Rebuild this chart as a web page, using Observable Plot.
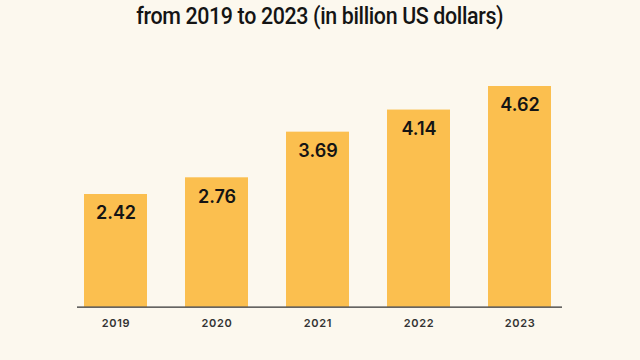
<!DOCTYPE html>
<html>
<head>
<meta charset="utf-8">
<script src="https://cdn.jsdelivr.net/npm/d3@7"></script>
<script src="https://cdn.jsdelivr.net/npm/@observablehq/plot@0.6"></script>
<style>
  html, body { margin: 0; padding: 0; background: #fcf8ee; }
  #wrap { width: 640px; height: 360px; position: relative; overflow: hidden; background: #fcf8ee; }
  #title {
    position: absolute; left: 0; top: 0; width: 640px; height: 40px;
    text-align: center; line-height: 32px;
    font-family: "Roboto", "Liberation Sans", sans-serif;
    font-weight: 500; font-size: 24px; color: #141414; letter-spacing: -0.4px;
  }
  #title span { display: inline-block; transform-origin: 50% 50%; white-space: nowrap; }
  #chart { position: absolute; left: 0; top: 40px; }
</style>
</head>
<body>
<div id="wrap">
  <div id="title"><span id="tspan">from 2019 to 2023 (in billion US dollars)</span></div>
  <div id="chart"></div>
</div>
<script>
const years = ["2019", "2020", "2021", "2022", "2023"];
const values = [2.42, 2.76, 3.69, 4.14, 4.62];
const labels = ["2.42", "2.76", "3.69", "4.14", "4.62"];

const data = years.map((y, i) => ({year: y, value: values[i], label: labels[i]}));

const plot = Plot.plot({
  width: 640,
  height: 320,
  marginLeft: 77,
  marginRight: 78,
  marginTop: 20,
  marginBottom: 53.3,
  style: {background: "transparent", overflow: "visible"},
  x: {domain: years, paddingInner: 0.374, paddingOuter: 0.079, align: 0.4, label: null},
  y: {domain: [0, 4.62], range: [272.8, 46], axis: null},
  marks: [
    Plot.barY(data, {x: "year", y: "value", fill: "#fbbf4f", clip: true}),
    Plot.ruleY([0], {y: () => 0.124, stroke: "#333", strokeWidth: 1.2}),
    Plot.text(data, {x: "year", y: "value", text: "label", dy: 19, fill: "#141414",
      fontSize: 18, fontWeight: 600, fontFamily: "Inter, sans-serif"}),
    Plot.axisX({tickSize: 0, tickPadding: 12, fontSize: 11, fontWeight: 600,
      fontFamily: "Inter, sans-serif", fill: "#333", label: null})
  ]
});
plot.querySelectorAll('[aria-label="x-axis tick label"] text').forEach(t => t.setAttribute("letter-spacing", "0.7"));
document.getElementById("chart").appendChild(plot);

const ts = document.getElementById("tspan");
const w = ts.getBoundingClientRect().width;
if (w > 0) ts.style.transform = `scaleX(${367 / w})`;
</script>
</body>
</html>
